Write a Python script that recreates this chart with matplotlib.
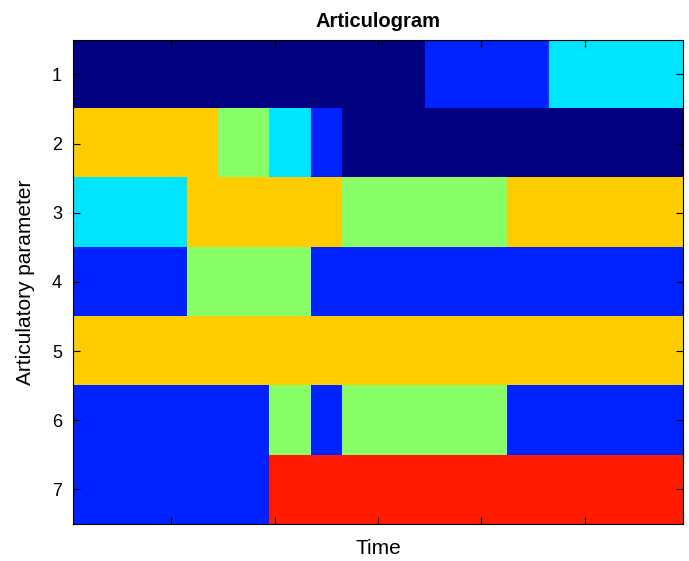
"""
Articulogram: articulatory parameter codes over time, drawn as an image.
"""

import matplotlib.pyplot as plt
from matplotlib.colors import ListedColormap
import numpy as np

# Articulatory parameter rows (top to bottom)
params = [1, 2, 3, 4, 5, 6, 7]

# Each row as run-length segments: (code, number of time frames)
# codes: 0 navy, 1 blue, 2 cyan, 3 green, 4 orange, 5 red
runs = [
    [(0, 34), (1, 12), (2, 13)],
    [(4, 14), (3, 5), (2, 4), (1, 3), (0, 33)],
    [(2, 11), (4, 15), (3, 16), (4, 17)],
    [(1, 11), (3, 12), (1, 36)],
    [(4, 59)],
    [(1, 19), (3, 4), (1, 3), (3, 16), (1, 17)],
    [(1, 19), (5, 40)],
]

time_ticks = [10, 20, 30, 40, 50]

# jet-like colours for the codes
colors = ['#000080', '#0022ff', '#00e5ff', '#88ff66', '#ffcc00', '#ff1a00']

grid = np.array([np.repeat([c for c, n in row], [n for c, n in row]) for row in runs])

plt.rcParams['font.family'] = ['Liberation Sans', 'DejaVu Sans']

fig = plt.figure(figsize=(6.89, 5.61), dpi=100)
ax = fig.add_axes([0.106, 0.066, 0.885, 0.863])

ax.imshow(grid, cmap=ListedColormap(colors), vmin=-0.5, vmax=5.5,
          aspect='auto', interpolation='nearest',
          extent=[0.5, grid.shape[1] + 0.5, len(params) + 0.5, 0.5])

ax.set_xticks(time_ticks)
ax.set_xticklabels([])
ax.set_yticks(params)
ax.set_yticklabels([str(p) for p in params], fontsize=13)
ax.tick_params(direction='in', top=True, right=True, length=5, width=0.8, pad=8)

ax.set_title('Articulogram', fontsize=14.5, fontweight='bold', pad=9)
ax.set_xlabel('Time', fontsize=15, labelpad=3)
ax.set_ylabel('Articulatory parameter', fontsize=15, labelpad=12)

for s in ax.spines.values():
    s.set_linewidth(0.8)

plt.savefig('out.png', dpi=100)
